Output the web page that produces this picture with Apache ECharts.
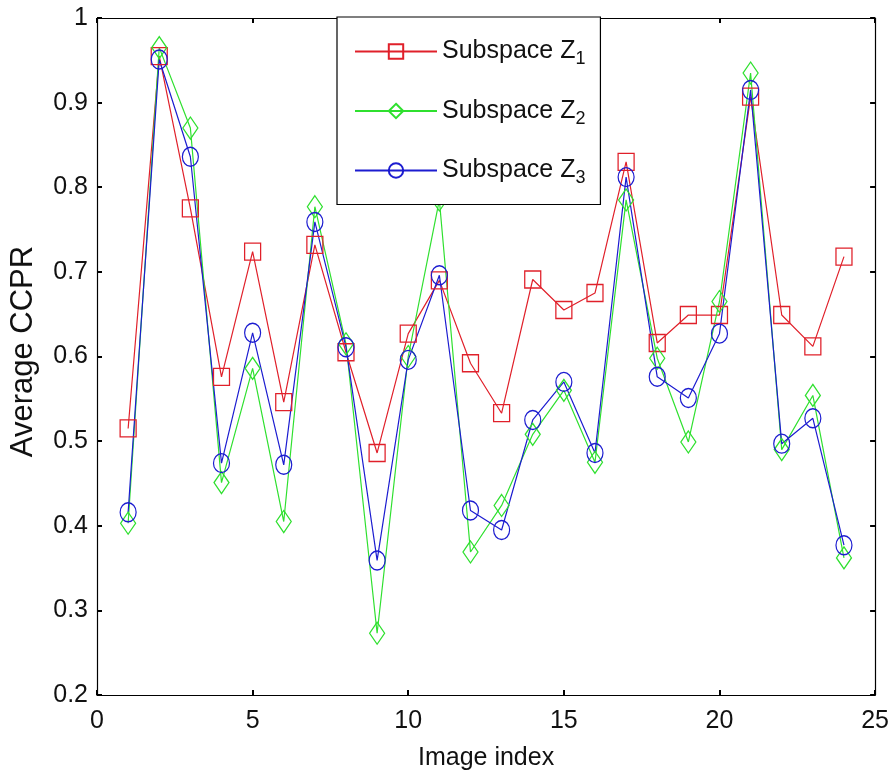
<!DOCTYPE html>
<html>
<head>
<meta charset="utf-8">
<title>Average CCPR per image</title>
<script src="https://cdn.jsdelivr.net/npm/echarts@6/dist/echarts.min.js"></script>
<style>
  html, body { margin: 0; padding: 0; background: #fff; }
  #chart { width: 892px; height: 783px; }
</style>
</head>
<body>
<div id="chart"></div>
<script>
// Image indices on the horizontal axis
const imageIndex = [1, 2, 3, 4, 5, 6, 7, 8, 9, 10, 11, 12, 13, 14, 15, 16, 17, 18, 19, 20, 21, 22, 23, 24];

// Average CCPR for each subspace
const subspaceZ1 = [0.515, 0.955, 0.775, 0.576, 0.724, 0.546, 0.732, 0.605, 0.486, 0.627, 0.690, 0.592,
                    0.533, 0.691, 0.655, 0.675, 0.830, 0.616, 0.649, 0.649, 0.907, 0.649, 0.612, 0.718];
const subspaceZ2 = [0.403, 0.965, 0.870, 0.451, 0.586, 0.405, 0.777, 0.615, 0.273, 0.600, 0.785, 0.369,
                    0.424, 0.508, 0.560, 0.475, 0.785, 0.598, 0.499, 0.665, 0.935, 0.490, 0.554, 0.362];
const subspaceZ3 = [0.416, 0.951, 0.836, 0.474, 0.628, 0.472, 0.759, 0.611, 0.359, 0.596, 0.696, 0.418,
                    0.395, 0.525, 0.570, 0.486, 0.812, 0.576, 0.551, 0.627, 0.915, 0.497, 0.527, 0.377];

const seriesNames = ['Subspace Z1', 'Subspace Z2', 'Subspace Z3'];

// Tick labels
const xTickLabels = ['0', '5', '10', '15', '20', '25'];
const yTickLabels = ['0.2', '0.3', '0.4', '0.5', '0.6', '0.7', '0.8', '0.9', '1'];

const font = '"Liberation Sans", Arial, Helvetica, sans-serif';

const pairs = vals => imageIndex.map((x, i) => [x, vals[i]]);

const tickStyle = { show: true, inside: true, length: 5, lineStyle: { color: '#000', width: 2 } };
const lineAxis = { show: true, onZero: false, lineStyle: { color: '#000', width: 1.2 } };

const xBase = { type: 'value', min: 0, max: 25, interval: 5, splitLine: { show: false },
                axisLine: lineAxis, axisTick: tickStyle };
const yBase = { type: 'value', min: 0.2, max: 1, interval: 0.1, splitLine: { show: false },
                axisLine: lineAxis, axisTick: tickStyle };

function makeSeries(name, values, color, symbol, size) {
  return {
    name: name,
    type: 'line',
    data: pairs(values),
    symbol: symbol,
    symbolSize: size,
    showAllSymbol: true,
    lineStyle: { color: color, width: 1.2 },
    itemStyle: { color: 'rgba(255,255,255,0)', borderColor: color, borderWidth: 1.3 },
    emphasis: { disabled: true },
    animation: false
  };
}

const chart = echarts.init(document.getElementById('chart'), null, { renderer: 'canvas' });

chart.setOption({
  backgroundColor: '#fff',
  animation: false,
  grid: { left: 97, right: 16, top: 18, bottom: 88, containLabel: false },
  xAxis: [
    Object.assign({}, xBase, {
      position: 'bottom',
      name: 'Image index',
      nameLocation: 'middle',
      nameGap: 51,
      nameTextStyle: { fontFamily: font, fontSize: 25, color: '#111' },
      axisLabel: {
        margin: 14, fontFamily: font, fontSize: 25, color: '#111',
        formatter: v => xTickLabels[Math.round(v / 5)]
      }
    }),
    Object.assign({}, xBase, { position: 'top', axisLabel: { show: false } })
  ],
  yAxis: [
    Object.assign({}, yBase, {
      position: 'left',
      name: 'Average CCPR',
      nameLocation: 'middle',
      nameGap: 58,
      nameRotate: 90,
      nameTextStyle: { fontFamily: font, fontSize: 31, color: '#111', padding: [0, 0, 0, 10] },
      axisLabel: {
        margin: 9, fontFamily: font, fontSize: 25, color: '#111',
        formatter: v => yTickLabels[Math.round((v - 0.2) * 10)]
      }
    }),
    Object.assign({}, yBase, { position: 'right', axisLabel: { show: false } })
  ],
  legend: {
    data: seriesNames,
    orient: 'vertical',
    left: 337,
    top: 17,
    padding: [22, 15, 17, 17],
    itemGap: 30,
    itemWidth: 82,
    itemHeight: 18,
    backgroundColor: '#fff',
    borderColor: '#000',
    borderWidth: 1.2,
    borderRadius: 0,
    selectedMode: false,
    formatter: name => '{m|' + name.slice(0, -1) + '}{s|' + name.slice(-1) + '}',
    textStyle: {
      color: '#111',
      rich: {
        m: { fontFamily: font, fontSize: 25, lineHeight: 34, color: '#111' },
        s: { fontFamily: font, fontSize: 18, lineHeight: 2, color: '#111', verticalAlign: 'bottom' }
      }
    }
  },
  series: [
    makeSeries(seriesNames[0], subspaceZ1, '#e0202a', 'rect', [16, 17]),
    makeSeries(seriesNames[1], subspaceZ2, '#2fe02f', 'diamond', [15, 22]),
    makeSeries(seriesNames[2], subspaceZ3, '#1c1cd0', 'circle', [16, 19])
  ]
});
</script>
</body>
</html>
